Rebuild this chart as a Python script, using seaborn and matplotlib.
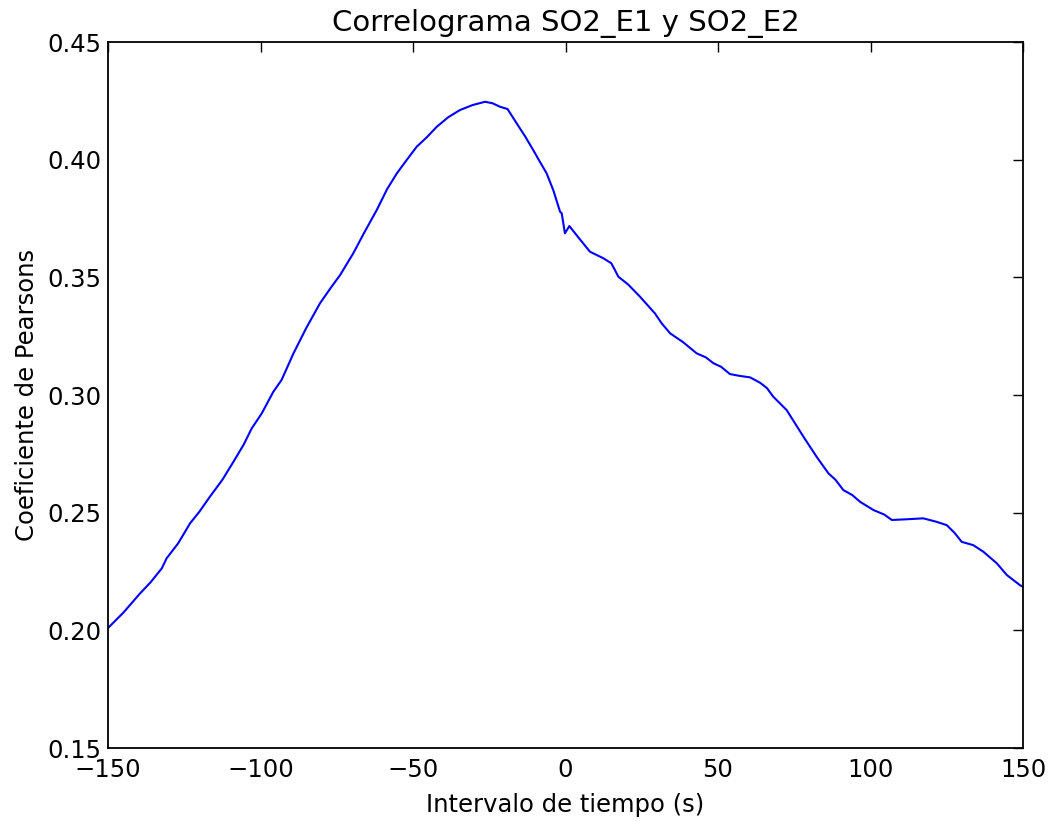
import numpy as np
import pandas as pd
import matplotlib
matplotlib.use("Agg")
import matplotlib.pyplot as plt
import seaborn as sns

# Lag (s) and Pearson coefficient
lag = [-150, -145.0, -139.5, -136.0, -132.4, -130.8, -127.0, -123.1, -120.0, -116.6,
       -112.5, -108.9, -105.5, -102.9, -99.6, -95.8, -93.1, -89.2, -85.0, -80.5,
       -77.0, -73.9, -69.6, -66.0, -61.9, -58.5, -55.3, -52.0, -48.8, -45.5,
       -42.2, -38.5, -34.6, -30.5, -26.4, -24.0, -21.5, -19.0, -16.0, -13.3,
       -10.6, -8.4, -6.2, -4.0, -1.8, -1.25, -0.2, 1.25, 4.5,
       8.0, 12.4, 15.0, 16.2, 17.3, 20.5, 24.4, 29.3, 31.5, 34.3, 38.5, 43.0, 46.0, 48.5,
       51.0, 53.9, 57.2, 60.5, 63.8, 66.0, 68.1, 72.5, 78.0, 82.3, 86.2, 88.5, 91.1, 94.0,
       96.6, 101.0, 104.5, 107.0, 111.9, 117.3, 121.7, 125.0, 127.5, 129.9, 133.7, 137.0,
       141.4, 144.7, 149.0, 150]
pearson = [0.201, 0.2075, 0.2157, 0.2205, 0.2263, 0.2306, 0.2370, 0.2455, 0.2505, 0.2568,
           0.2640, 0.2716, 0.2790, 0.2858, 0.2922, 0.3014, 0.3064, 0.3177, 0.3285, 0.3390,
           0.3455, 0.3510, 0.3602, 0.3690, 0.3786, 0.3875, 0.3942, 0.4000, 0.4055, 0.4095,
           0.4140, 0.4180, 0.4211, 0.4232, 0.4246, 0.4240, 0.4225, 0.4215, 0.4154, 0.4100,
           0.4041, 0.3991, 0.3942, 0.3870, 0.3779, 0.3772, 0.3687, 0.3718, 0.3665,
           0.3609, 0.3581, 0.3560, 0.3531, 0.3503, 0.3470, 0.3418, 0.3347, 0.3305, 0.3262,
           0.3225, 0.3177, 0.3160, 0.3135, 0.3120, 0.3089, 0.3081, 0.3075, 0.3052, 0.3030,
           0.2993, 0.2936, 0.2823, 0.2738, 0.2667, 0.2640, 0.2596, 0.2575, 0.2546, 0.2511,
           0.2492, 0.2469, 0.2472, 0.2476, 0.2461, 0.2447, 0.2415, 0.2376, 0.2362, 0.2334,
           0.2285, 0.2235, 0.2192, 0.2185]

title = "Correlograma SO2_E1 y SO2_E2"
xlabel = "Intervalo de tiempo (s)"
ylabel = "Coeficiente de Pearsons"

sns.set_style("white")
plt.rcParams['font.family'] = ['DejaVu Sans']

df = pd.DataFrame({"lag": lag, "r": pearson})

fig = plt.figure(figsize=(10.5, 8.22), dpi=100)
ax = fig.add_axes([0.1029, 0.0900, 0.8714, 0.8589])
sns.lineplot(data=df, x="lag", y="r", ax=ax, color="#0000ff", linewidth=1.5, sort=False)

ax.set_xlim(-150, 150)
ax.set_ylim(0.15, 0.45)
ax.set_xticks([-150, -100, -50, 0, 50, 100, 150])
ax.set_yticks([0.15, 0.20, 0.25, 0.30, 0.35, 0.40, 0.45])
ax.set_xticklabels(["\u2212150", "\u2212100", "\u221250", "0", "50", "100", "150"])
ax.set_yticklabels(["0.15", "0.20", "0.25", "0.30", "0.35", "0.40", "0.45"])

ax.set_title(title, fontsize=21, pad=8, color="black")
ax.set_xlabel(xlabel, fontsize=17.5, labelpad=8, color="black")
ax.set_ylabel(ylabel, fontsize=17.5, labelpad=6, color="black")

for s in ax.spines.values():
    s.set_visible(True)
    s.set_color("black")
    s.set_linewidth(1.3)
ax.tick_params(axis="both", which="major", direction="in", length=7, width=1,
               colors="black", labelsize=17.5, top=True, right=True, pad=5)
ax.tick_params(axis="x", pad=7)
ax.grid(False)

fig.savefig("out.png", dpi=100, facecolor="white")
